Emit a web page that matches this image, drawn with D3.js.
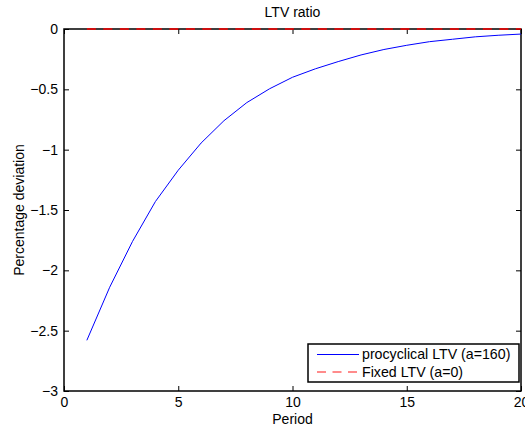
<!DOCTYPE html>
<html>
<head>
<meta charset="utf-8">
<script src="https://cdn.jsdelivr.net/npm/d3@7"></script>
<style>
  body { margin: 0; background: #fff; }
  text { font-family: "Liberation Sans", Arial, sans-serif; }
</style>
</head>
<body>
<svg id="chart" width="525" height="430"></svg>
<script>
// values
var periods = [1,2,3,4,5,6,7,8,9,10,11,12,13,14,15,16,17,18,19,20];
var procyclical = [-2.58,-2.14,-1.76,-1.43,-1.17,-0.945,-0.76,-0.61,-0.495,-0.40,
                   -0.33,-0.27,-0.215,-0.17,-0.135,-0.105,-0.085,-0.065,-0.052,-0.042];
var fixedLtv = [0,0,0,0,0,0,0,0,0,0,0,0,0,0,0,0,0,0,0,0];
var xTicks = [0,5,10,15,20];
var yTicks = [0,-0.5,-1,-1.5,-2,-2.5,-3];
var seriesNames = ["procyclical LTV (a=160)", "Fixed LTV (a=0)"];

var margin = {left:64, right:4, top:29, bottom:39};
var width = 525 - margin.left - margin.right;
var height = 430 - margin.top - margin.bottom;

var svg = d3.select("#chart");

var x = d3.scaleLinear().domain([0,20]).range([0,width]);
var y = d3.scaleLinear().domain([-3,0]).range([height,0]);

var g = svg.append("g").attr("transform","translate("+margin.left+","+margin.top+")");

function styleAxis(sel, hideText) {
  sel.select(".domain").remove();
  sel.selectAll(".tick line").attr("stroke","#000").attr("stroke-width",1);
  sel.selectAll("text").attr("font-size",14).attr("fill","#000");
  if (hideText) sel.selectAll("text").remove();
}

// box first so the zero line sits on top of it
g.append("rect").attr("width",width).attr("height",height)
  .attr("fill","none").attr("stroke","#000").attr("stroke-width",1.5);

// inward ticks on all four sides, matlab style
g.append("g").attr("transform","translate(0,"+height+")")
  .call(d3.axisBottom(x).tickValues(xTicks).tickSize(-5).tickPadding(6))
  .call(function(s){ styleAxis(s,false); });
g.append("g")
  .call(d3.axisTop(x).tickValues(xTicks).tickSize(-5))
  .call(function(s){ styleAxis(s,true); });
g.append("g")
  .call(d3.axisLeft(y).tickValues(yTicks).tickSize(-5).tickPadding(6)
        .tickFormat(d3.format("")))
  .call(function(s){ styleAxis(s,false); });
g.append("g").attr("transform","translate("+width+",0)")
  .call(d3.axisRight(y).tickValues(yTicks).tickSize(-5))
  .call(function(s){ styleAxis(s,true); });

var line = d3.line().x(function(d,i){ return x(periods[i]); }).y(function(d){ return y(d); });

g.append("path").datum(procyclical)
  .attr("d", line).attr("fill","none").attr("stroke","#0000ff").attr("stroke-width",1);

g.append("path").datum(fixedLtv)
  .attr("d", line).attr("fill","none").attr("stroke","#ff0000").attr("stroke-width",1.5)
  .attr("stroke-dasharray","9,7.5");

// legend
var leg = g.append("g").attr("transform","translate("+(308-margin.left)+","+(344-margin.top)+")");
leg.append("rect").attr("width",211).attr("height",38)
  .attr("fill","#fff").attr("stroke","#000").attr("stroke-width",1.5);
var legStyles = [
  {stroke:"#0000ff", dash:null, w:1},
  {stroke:"#ff6666", dash:"9,6.5", w:1.5}
];
seriesNames.forEach(function(name,i){
  var row = leg.append("g").attr("transform","translate(0,"+(10.5+i*17.5)+")");
  row.append("line").attr("x1",9).attr("x2",51).attr("y1",0).attr("y2",0)
    .attr("stroke",legStyles[i].stroke).attr("stroke-width",legStyles[i].w)
    .attr("stroke-dasharray",legStyles[i].dash);
  row.append("text").attr("x",54).attr("y",0).attr("dy","0.35em")
    .attr("font-size",14.2).text(name);
});

// title and labels
svg.append("text").attr("x",margin.left+width/2).attr("y",17)
  .attr("text-anchor","middle").attr("font-size",14).text("LTV ratio");
svg.append("text").attr("x",margin.left+width/2).attr("y",424)
  .attr("text-anchor","middle").attr("font-size",14).text("Period");
svg.append("text").attr("transform","translate(24,"+(margin.top+height/2)+") rotate(-90)")
  .attr("text-anchor","middle").attr("font-size",14).text("Percentage deviation");
</script>
</body>
</html>
